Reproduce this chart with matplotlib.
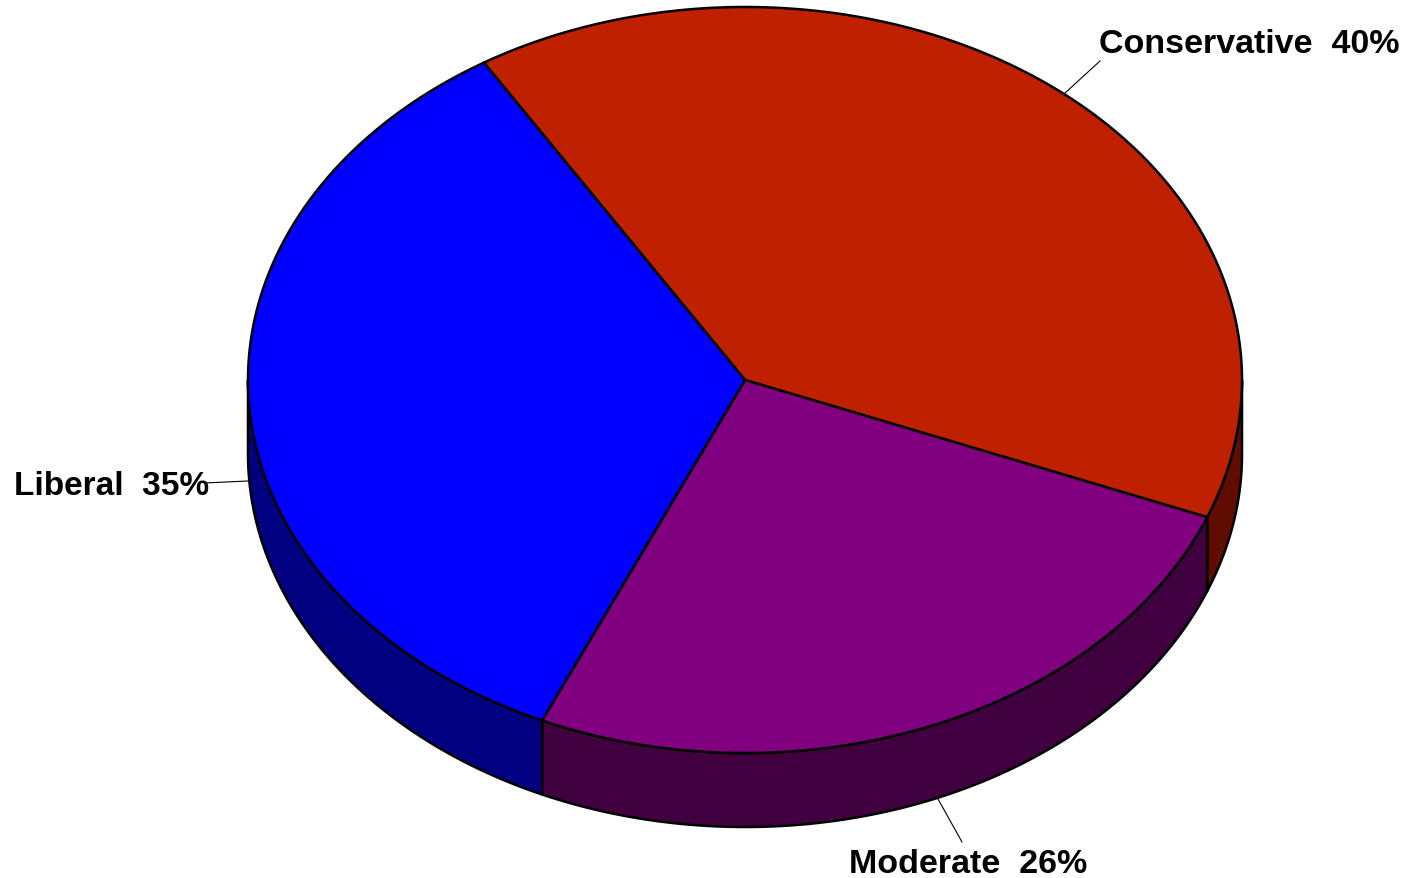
import matplotlib
matplotlib.use('Agg')
import matplotlib.pyplot as plt
import numpy as np

labels = ['Conservative  40%', 'Moderate  26%', 'Liberal  35%']
shares = [39.8, 25.7, 34.5]
top_colors = ['#BF2000', '#800080', '#0000FF']
side_colors = ['#600C00', '#400040', '#000080']
label_sizes = [24.5, 24.5, 24]

# geometry of the tilted pie, in picture pixels
cx, cy = 745, 381
rx, ry = 497, 373
depth = 74
start = 121.7

fig = plt.figure(figsize=(14.06, 8.79), dpi=100)
ax = fig.add_axes([0, 0, 1, 1])
ax.set_xlim(0, 1406)
ax.set_ylim(879, 0)
ax.axis('off')


def rim(a0, a1, n=200):
    t = np.radians(np.linspace(a0, a1, n))
    return cx + rx * np.cos(t), cy - ry * np.sin(t)


# Сначала боковые стенки, потом верх
a = start
edges = []
for s in shares:
    edges.append((a, a - s * 3.6))
    a -= s * 3.6

for (a0, a1), col in zip(edges, side_colors):
    # only the front half of the rim is visible
    lo, hi = max(a1, -180), min(a0, 0)
    if lo < hi:
        x, y = rim(hi, lo)
        xs = np.concatenate((x, x[::-1]))
        ys = np.concatenate((y, y[::-1] + depth))
        ax.fill(xs, ys, facecolor=col, edgecolor='black', lw=1.8, joinstyle='round')

for (a0, a1), col in zip(edges, top_colors):
    x, y = rim(a0, a1)
    ax.fill(np.r_[cx, x], np.r_[cy, y], facecolor=col, edgecolor='black', lw=1.8, joinstyle='round')

# Подписи и выноски
ax.plot([1065, 1100], [94, 62], color='black', lw=0.8)
ax.plot([938, 962], [800, 843], color='black', lw=0.8)
ax.plot([204, 248], [484, 482], color='black', lw=0.8)

font = dict(family='Liberation Sans', fontweight='bold', color='black', va='baseline')
ax.text(1099, 53, labels[0], fontsize=label_sizes[0], **font)
ax.text(849, 873, labels[1], fontsize=label_sizes[1], **font)
ax.text(14, 495, labels[2], fontsize=label_sizes[2], **font)

fig.savefig('out.png', dpi=100)
